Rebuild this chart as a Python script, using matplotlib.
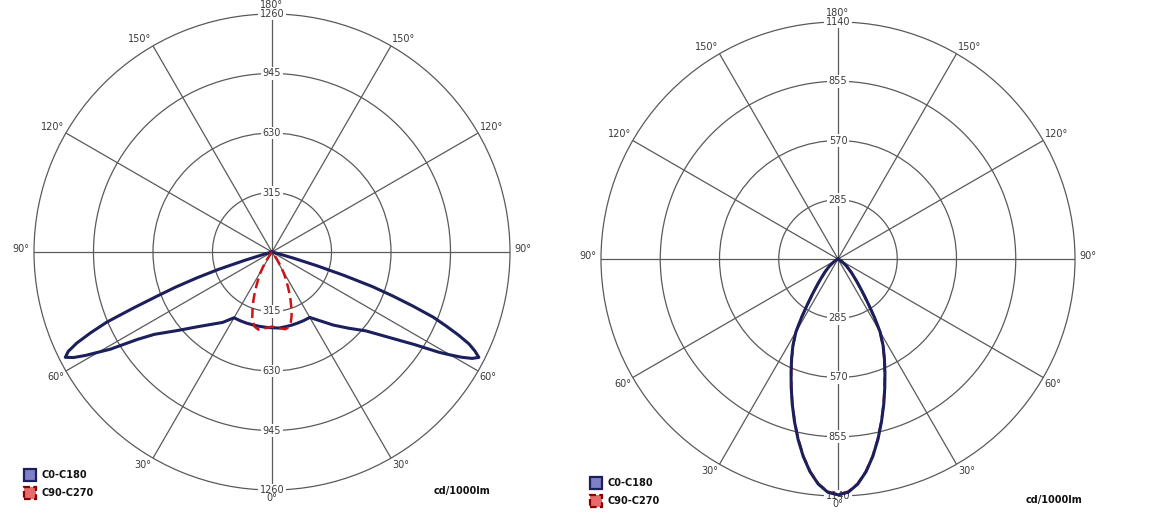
import numpy as np
import matplotlib.pyplot as plt
from matplotlib.patches import Rectangle

W, H = 1171, 523

# gamma angle in degrees, 0 = straight down (nadir)
# left diagram: wide batwing distribution
gamma_a = [0, 5, 10, 15, 20, 25, 30, 35, 40, 45, 50, 55, 57, 59, 60, 61, 62,
           63, 64, 65, 66, 67, 68, 69, 70, 71, 72, 73, 74, 75, 76, 80, 90]
c0_a = [404, 404, 402, 401, 400, 400, 400, 445, 505, 570, 650, 810, 900, 1030,
        1090, 1150, 1200, 1229, 1195, 1150, 1080, 1000, 920, 800, 680, 560,
        400, 250, 120, 30, 0, 0, 0]
c180_a = [401, 400, 399, 399, 400, 401, 402, 455, 500, 560, 645, 760, 850,
          1000, 1060, 1130, 1190, 1228, 1200, 1140, 1050, 950, 790, 650, 540,
          420, 300, 150, 50, 0, 0, 0, 0]
gamma_a_red = [0, 5, 10, 13, 15, 17, 19, 21, 23, 25, 27, 29, 31, 33, 35, 37, 90]
c90_a = [395, 405, 415, 405, 385, 355, 315, 275, 235, 195, 160, 130, 95, 60,
         30, 0, 0]
c270_a = [395, 405, 417, 406, 387, 357, 316, 275, 233, 193, 158, 128, 93, 58,
          28, 0, 0]

# right diagram: narrow symmetric beam
gamma_b = [0, 2.5, 5, 7.5, 10, 12.5, 15, 17.5, 20, 22.5, 25, 27.5, 30, 32, 34,
           36, 38, 40, 45, 50, 55, 60, 70, 90]
c0_b = [1135, 1123, 1087, 1032, 964, 888, 809, 732, 658, 590, 528, 470, 405,
        330, 262, 210, 170, 140, 90, 55, 28, 12, 0, 0]
c90_b = [1132, 1120, 1085, 1030, 962, 886, 807, 730, 656, 588, 526, 468, 403,
         328, 260, 208, 168, 138, 88, 53, 26, 10, 0, 0]

rings_a = [315, 630, 945, 1260]
rings_b = [285, 570, 855, 1140]
angle_marks = [0, 30, 60, 90, 120, 150, 180]

navy = '#1b1f5c'
red = '#cc1414'
grid_col = '#5a5a5a'
txt_col = '#3a3a3a'

fig = plt.figure(figsize=(W / 100, H / 100), dpi=100)
fig.patch.set_facecolor('white')


def both_sides(g, left, right):
    g = np.array(g, dtype=float)
    th = np.concatenate([-g[::-1], g[1:]])
    r = np.concatenate([np.array(left)[::-1], np.array(right)[1:]])
    return np.radians(th), r


def panel(cx, cy, rad, rings):
    rect = [(cx - rad) / W, 1 - (cy + rad) / H, 2 * rad / W, 2 * rad / H]
    ax = fig.add_axes(rect, projection='polar')
    ax.set_theta_zero_location('S')
    ax.set_theta_direction(1)
    ax.set_ylim(0, rings[-1])
    ax.set_yticks(rings[:-1])
    ax.set_yticklabels([])
    ax.set_xticks(np.radians(np.arange(0, 360, 30)))
    ax.set_xticklabels([])
    ax.grid(True, color=grid_col, lw=0.9)
    ax.spines['polar'].set_color(grid_col)
    ax.spines['polar'].set_linewidth(0.9)
    ax.set_facecolor('white')

    # radial scale labels on the vertical axis
    for r in rings:
        for th in (0, np.pi):
            ax.text(th, r, str(r), ha='center', va='center', fontsize=7,
                    color=txt_col, zorder=3, clip_on=False,
                    bbox=dict(boxstyle='square,pad=0.15', fc='white', ec='none'))

    R = rings[-1]
    for a in angle_marks:
        sides = [1] if a in (0, 180) else [1, -1]
        for s in sides:
            if a == 0:
                ha, va, off = 'center', 'top', (0, -2)
            elif a == 180:
                ha, va, off = 'center', 'bottom', (0, 3.2)
            elif a == 90:
                ha, va, off = ('left' if s > 0 else 'right'), 'center', (3 * s, 2)
            elif a < 90:
                ha, va, off = ('left' if s > 0 else 'right'), 'top', (1 * s, -1)
            else:
                ha, va, off = ('left' if s > 0 else 'right'), 'bottom', (1 * s, 1)
            ax.annotate('%d°' % a, xy=(np.radians(s * a), R), xytext=off,
                        textcoords='offset points', ha=ha, va=va,
                        fontsize=7, color=txt_col, annotation_clip=False)
    return ax


def legend(x, y, ux, uy):
    # blue box
    fig.add_artist(Rectangle((x / W, 1 - (y + 12) / H), 12 / W, 12 / H,
                             transform=fig.transFigure, fc='#7f80c8',
                             ec=navy, lw=1.6))
    fig.text((x + 17) / W, 1 - (y + 6) / H, 'C0-C180', fontsize=7,
             fontweight='bold', va='center', ha='left', color='#111111')
    # red dashed box
    fig.add_artist(Rectangle((x / W, 1 - (y + 30) / H), 12 / W, 12 / H,
                             transform=fig.transFigure, fc='#e86a6a',
                             ec='#8a0000', lw=1.6, ls=(0, (3, 1.5))))
    fig.text((x + 17) / W, 1 - (y + 24) / H, 'C90-C270', fontsize=7,
             fontweight='bold', va='center', ha='left', color='#111111')
    fig.text(ux / W, 1 - uy / H, 'cd/1000lm', fontsize=7, fontweight='bold',
             ha='center', va='center', color='#111111')


# left diagram
ax1 = panel(272, 252, 238, rings_a)
th, r = both_sides(gamma_a, c180_a, c0_a)
ax1.plot(th, r, color=navy, lw=2.2, zorder=4)
th, r = both_sides(gamma_a_red, c270_a, c90_a)
ax1.plot(th, r, color=red, lw=1.8, ls=(0, (4, 2)), zorder=5)

# right diagram
ax2 = panel(838, 259, 237, rings_b)
th, r = both_sides(gamma_b, c90_b, c90_b)
ax2.plot(th, r, color=red, lw=1.8, ls=(0, (4, 2)), zorder=4)
th, r = both_sides(gamma_b, c0_b, c0_b)
ax2.plot(th, r, color=navy, lw=2.2, zorder=5)

legend(24, 469, 462, 491)
legend(590, 477, 1054, 500)

fig.savefig('out.png', dpi=100, facecolor='white')
